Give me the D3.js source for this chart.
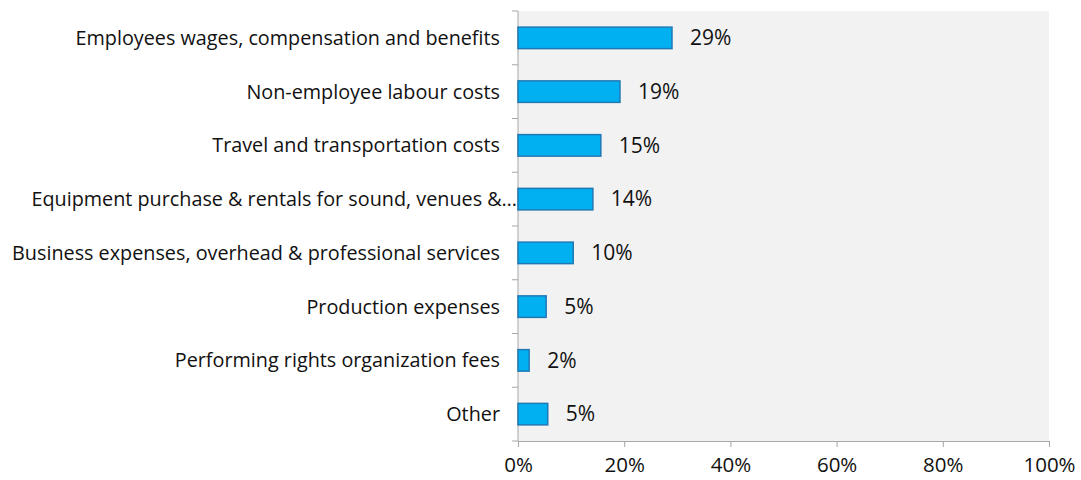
<!DOCTYPE html>
<html>
<head>
<meta charset="utf-8">
<script src="https://cdn.jsdelivr.net/npm/d3@7"></script>
<style>
  body { margin: 0; background: #fff; }
  svg text { font-family: "Open Sans", "Noto Sans", sans-serif; fill: #111; }
</style>
</head>
<body>
<svg id="chart" width="1081" height="480"></svg>
<script>
const categories = [
    "Employees wages, compensation and benefits",
    "Non-employee labour costs",
    "Travel and transportation costs",
    "Equipment purchase & rentals for sound, venues &…",
    "Business expenses, overhead & professional services",
    "Production expenses",
    "Performing rights organization fees",
    "Other"
];
const values = [29.0, 19.2, 15.6, 14.1, 10.4, 5.3, 2.1, 5.6];
const valueLabels = ["29%", "19%", "15%", "14%", "10%", "5%", "2%", "5%"];
const xTicks = [0, 20, 40, 60, 80, 100];

const svg = d3.select("svg#chart");
const margin = { top: 11, right: 32, bottom: 39, left: 518 };
const width = +svg.attr("width");
const height = +svg.attr("height");
const chartWidth = width - margin.left - margin.right;
const chartHeight = height - margin.top - margin.bottom;

const g = svg.append("g").attr("transform", `translate(${margin.left},${margin.top})`);

const x = d3.scaleLinear().domain([0, 100]).range([0, chartWidth]);
const y = d3.scaleBand().domain(categories).range([0, chartHeight]).paddingInner(0.6).paddingOuter(0.3);

// plot background
g.append("rect")
    .attr("width", chartWidth)
    .attr("height", chartHeight)
    .attr("fill", "#f2f2f2");

// x axis
const xAxis = g.append("g")
    .attr("transform", `translate(0,${chartHeight})`)
    .call(d3.axisBottom(x).tickValues(xTicks).tickFormat(d => d + "%").tickSize(6).tickPadding(10));
xAxis.select(".domain").attr("stroke", "#a6a6a6");
xAxis.selectAll(".tick line").attr("stroke", "#a6a6a6");
xAxis.selectAll("text").attr("font-size", "20.5px").attr("fill", "#111");

// y axis line with ticks at category boundaries
g.append("line")
    .attr("x1", 0).attr("x2", 0)
    .attr("y1", 0).attr("y2", chartHeight)
    .attr("stroke", "#a6a6a6");
g.selectAll(".ytick").data(d3.range(categories.length + 1)).join("line")
    .attr("class", "ytick")
    .attr("x1", -6).attr("x2", 0)
    .attr("y1", i => i * chartHeight / categories.length)
    .attr("y2", i => i * chartHeight / categories.length)
    .attr("stroke", "#a6a6a6");

// category labels
g.selectAll(".cat").data(categories).join("text")
    .attr("class", "cat")
    .attr("x", d => d.endsWith("…") ? -1 : -18)
    .attr("y", d => y(d) + y.bandwidth() / 2)
    .attr("dy", "0.35em")
    .attr("text-anchor", "end")
    .attr("font-size", "19.8px")
    .text(d => d);

// bars
g.selectAll(".bar").data(values).join("rect")
    .attr("class", "bar")
    .attr("x", 0)
    .attr("y", (d, i) => y(categories[i]))
    .attr("width", d => x(d))
    .attr("height", y.bandwidth())
    .attr("fill", "#00b0f0")
    .attr("stroke", "#1f78b4")
    .attr("stroke-width", 1.5);

// value labels
g.selectAll(".val").data(values).join("text")
    .attr("class", "val")
    .attr("x", d => x(d) + 18)
    .attr("y", (d, i) => y(categories[i]) + y.bandwidth() / 2)
    .attr("dy", "0.35em")
    .attr("font-size", "21px")
    .text((d, i) => valueLabels[i]);
</script>
</body>
</html>
